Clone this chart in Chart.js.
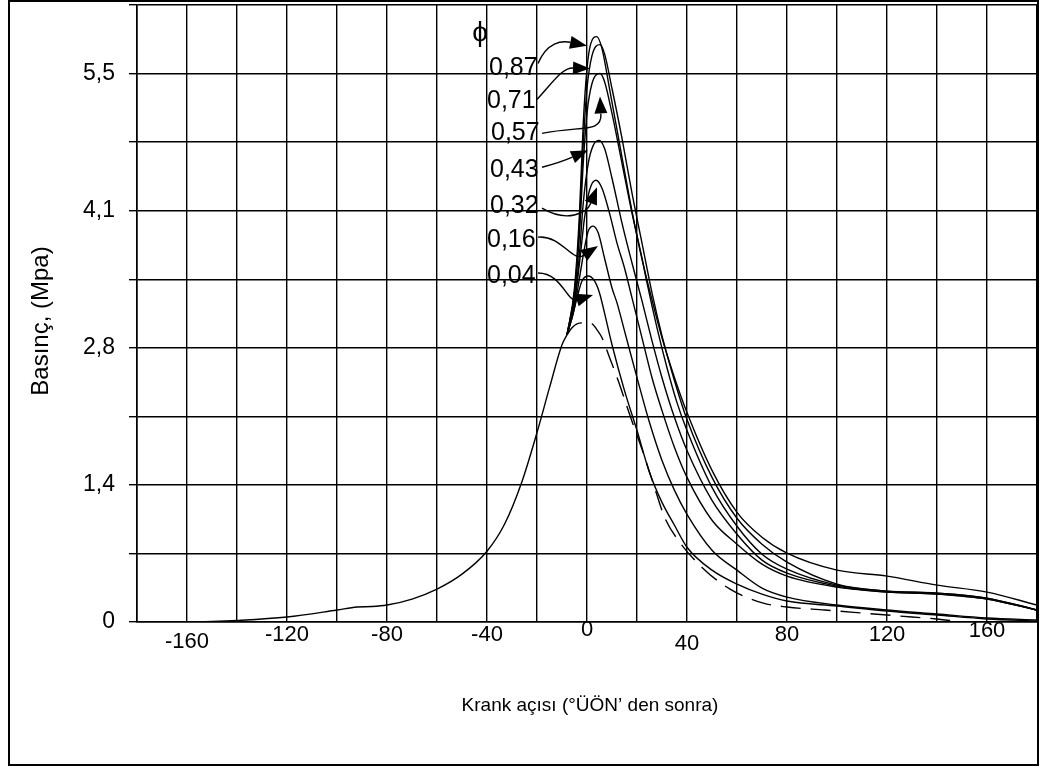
<!DOCTYPE html>
<html><head><meta charset="utf-8">
<script src="https://cdn.jsdelivr.net/npm/chart.js@4.4.1/dist/chart.umd.min.js"></script>
<style>html,body{margin:0;padding:0;background:#fff;}#wrap{width:1040px;height:775px;}</style>
</head><body><div id="wrap"><canvas id="c" width="1040" height="775"></canvas></div>
<script>
// ---- DATA ----
const xTickLabels = ['-160','-120','-80','-40','0','40','80','120','160'];
const xTickValues = [-160,-120,-80,-40,0,40,80,120,160];
const yTickLabels = ['0','1,4','2,8','4,1','5,5'];
const seriesLabels = ['0,87','0,71','0,57','0,43','0,32','0,16','0,04'];

// compression (common) curve
const compAngle = [-160,-150,-140,-120,-100,-92,-86,-80,-70,-60,-50,-40,-33,-26,-20,-15,-10,-8];
const compP     = [0.0,0.005,0.015,0.05,0.12,0.15,0.155,0.17,0.23,0.33,0.48,0.71,0.98,1.41,1.9,2.35,2.78,2.88];

// motored curve (dashed)
const motAngle = [-8,-6,-4,-1,2,4,6,9.2,12.5,17.2,21.9,26.5,31.2,36.5,45.9,57.2,70.5,80,95,110,125,140,150];
const motP     = [2.88,2.95,2.99,3.0,2.99,2.93,2.85,2.64,2.42,2.07,1.74,1.39,1.04,0.82,0.55,0.33,0.19,0.15,0.12,0.09,0.06,0.03,0.0];

// combustion curves
const a087 = [-8,-5,-3,-1.5,0,1.5,3.9,6,9,13,17,21,26,30,35,40,50,60,70,80,100,120,140,160,180];
const p087 = [2.88,3.35,4.1,5.0,5.55,5.8,5.87,5.75,5.35,4.8,4.25,3.75,3.23,2.85,2.45,2.1,1.52,1.1,0.85,0.69,0.52,0.46,0.37,0.3,0.17];
const a071 = [-8,-5,-3,-1.5,0,2,5.2,7,10,14,18,22,26,30,35,40,50,60,70,80,100,120,140,160,180];
const p071 = [2.88,3.3,4.0,4.8,5.35,5.68,5.79,5.7,5.35,4.85,4.3,3.8,3.3,2.87,2.42,2.03,1.45,1.04,0.78,0.6,0.38,0.31,0.29,0.24,0.12];
const a057 = [-8,-5,-3,-1.5,0,2,5.2,7,10,14,18,22,24,28,32,36,40,50,60,70,80,100,120,140,160,180];
const p057 = [2.88,3.3,3.9,4.6,5.1,5.4,5.5,5.42,5.1,4.6,4.1,3.65,3.4,2.95,2.55,2.2,1.92,1.35,0.96,0.68,0.53,0.37,0.31,0.29,0.24,0.12];
const a043 = [-8,-5,-3,-1.5,0.5,2.5,4.9,7,10,14,18,22,26,30,35,40,50,60,70,80,100,120,140,160,180];
const p043 = [2.88,3.2,3.7,4.2,4.6,4.78,4.83,4.75,4.45,4.0,3.6,3.22,2.82,2.45,2.05,1.72,1.22,0.88,0.62,0.49,0.36,0.3,0.28,0.23,0.12];
const a032 = [-8,-5,-3,-1,1,3.6,6,9,12,15,18,22,26,30,35,40,50,60,70,80,100,120,140,160,180];
const p032 = [2.88,3.2,3.6,4.05,4.33,4.43,4.35,4.1,3.8,3.55,3.25,2.85,2.45,2.12,1.75,1.45,1.02,0.78,0.58,0.46,0.35,0.3,0.28,0.23,0.12];
const a016 = [-8,-5,-3,-1,0.5,2.5,4.5,7,10,12,15,20,25,30,35,40,50,60,70,80,100,120,140,160,180];
const p016 = [2.88,3.15,3.45,3.75,3.92,3.97,3.9,3.65,3.35,3.2,2.92,2.45,2.0,1.62,1.32,1.08,0.72,0.52,0.34,0.25,0.17,0.12,0.08,0.04,0.02];
const a004 = [-8,-6,-4,-2,0.5,3,5,7,10,15,20,25,30,35,40,50,60,70,80,100,120,140,160,180];
const p004 = [2.88,3.05,3.25,3.42,3.47,3.42,3.3,3.1,2.78,2.32,1.92,1.5,1.2,0.97,0.75,0.52,0.38,0.28,0.21,0.16,0.11,0.07,0.03,0.01];

// ---- helpers ----
const pts = (a, p) => a.map((v, i) => ({x: v, y: p[i]}));
const solid = (label, a, p) => ({label, data: pts(a, p), borderColor:'#000', borderWidth:1.4,
  pointRadius:0, fill:false, cubicInterpolationMode:'monotone'});

const datasets = [
  solid('compression', compAngle, compP),
  Object.assign(solid('motored', motAngle, motP), {borderDash:[20,10]}),
  solid(seriesLabels[0], a087, p087),
  solid(seriesLabels[1], a071, p071),
  solid(seriesLabels[2], a057, p057),
  solid(seriesLabels[3], a043, p043),
  solid(seriesLabels[4], a032, p032),
  solid(seriesLabels[5], a016, p016),
  solid(seriesLabels[6], a004, p004)
];

// label anchors & arrows in data coordinates (deg, MPa)
const labelAnchors = [[-39.2,5.55],[-40,5.22],[-38.4,4.9],[-38.8,4.53],[-38.8,4.17],[-40,3.83],[-40,3.47]];
const arrows = [
  [[-19.6,5.60],[-16,5.82],[-10,5.83],[0,5.78]],
  [[-20,5.24],[-14,5.40],[-10,5.56],[1.2,5.55]],
  [[-18,4.90],[-2,4.98],[6,4.9],[5.2,5.27]],
  [[-18,4.56],[-12,4.6],[-6,4.66],[0.4,4.73]],
  [[-18,4.15],[-8,4.0],[0,4.1],[4,4.36]],
  [[-19.6,3.86],[-10,3.88],[-6,3.6],[4.4,3.77]],
  [[-19.6,3.50],[-10,3.5],[-8,3.2],[2.4,3.28]]
];

const FONT = '"Liberation Sans", Arial, sans-serif';

const deco = {
  id:'deco',
  afterDraw(chart){
    const ctx = chart.ctx, xs = chart.scales.x, ys = chart.scales.y;
    ctx.save();
    // outer frame
    ctx.strokeStyle='#000'; ctx.lineWidth=2;
    ctx.strokeRect(9,1,1029,764);
    // x tick labels
    ctx.fillStyle='#000'; ctx.font='22px '+FONT; ctx.textAlign='center'; ctx.textBaseline='middle';
    const yOff = [4,-3,-3,-3,-8,6,-3,-3,-7];
    xTickValues.forEach((v,i)=>{ ctx.fillText(xTickLabels[i], xs.getPixelForValue(v), 638+yOff[i]); });
    // axis titles
    ctx.font='19px '+FONT;
    ctx.fillText('Krank açısı (°ÜÖN\u2019 den sonra)', 590, 706);
    ctx.save(); ctx.translate(41, 321); ctx.rotate(-Math.PI/2);
    ctx.font='24px '+FONT;
    ctx.fillText('Basınç, (Mpa)', 0, 0); ctx.restore();
    // series labels
    ctx.font='25px '+FONT; ctx.textAlign='left';
    seriesLabels.forEach((t,i)=>{ ctx.fillText(t, xs.getPixelForValue(labelAnchors[i][0]), ys.getPixelForValue(labelAnchors[i][1])); });
    // arrows
    ctx.lineWidth=1.4;
    arrows.forEach(a=>{
      const P = a.map(q=>[xs.getPixelForValue(q[0]), ys.getPixelForValue(q[1])]);
      const ang = Math.atan2(P[3][1]-P[2][1], P[3][0]-P[2][0]);
      const L=17, W=6.5;
      const bx = P[3][0]-L*Math.cos(ang), by = P[3][1]-L*Math.sin(ang);
      ctx.beginPath(); ctx.moveTo(P[0][0],P[0][1]);
      ctx.bezierCurveTo(P[1][0],P[1][1],P[2][0],P[2][1],bx,by); ctx.stroke();
      ctx.beginPath(); ctx.moveTo(P[3][0],P[3][1]);
      ctx.lineTo(bx+W*Math.sin(ang), by-W*Math.cos(ang));
      ctx.lineTo(bx-W*Math.sin(ang), by+W*Math.cos(ang)); ctx.closePath(); ctx.fill();
    });
    // phi mark
    ctx.font='28px '+FONT; ctx.textAlign='center';
    ctx.fillText('\u03D5', xs.getPixelForValue(-42.8), ys.getPixelForValue(5.9));
    ctx.restore();
  }
};

new Chart(document.getElementById('c'), {
  type:'line',
  data:{datasets},
  options:{
    responsive:false, animation:false, devicePixelRatio:1,
    layout:{padding:{top:5,right:3,left:0,bottom:0}},
    plugins:{legend:{display:false}, tooltip:{enabled:false}},
    scales:{
      x:{type:'linear', min:-180, max:180,
        ticks:{display:false, stepSize:20},
        grid:{color:'#000', lineWidth:1.4, drawTicks:false},
        border:{color:'#000', width:1.6},
        afterFit(s){ s.height = 153; s.paddingLeft=0; s.paddingRight=0; }},
      y:{type:'linear', min:0, max:6.1875,
        ticks:{stepSize:0.6875, autoSkip:false, padding:14, color:'#000',
          font:{size:23, family:FONT},
          callback:(v,i)=> i%2===0 ? (yTickLabels[i/2] ?? '') : ''},
        grid:{color:'#000', lineWidth:1.4, tickLength:8},
        border:{color:'#000', width:1.6},
        afterFit(s){ s.width = 137; s.paddingTop=0; s.paddingBottom=0; }}
    }
  },
  plugins:[deco]
});
</script></body></html>
